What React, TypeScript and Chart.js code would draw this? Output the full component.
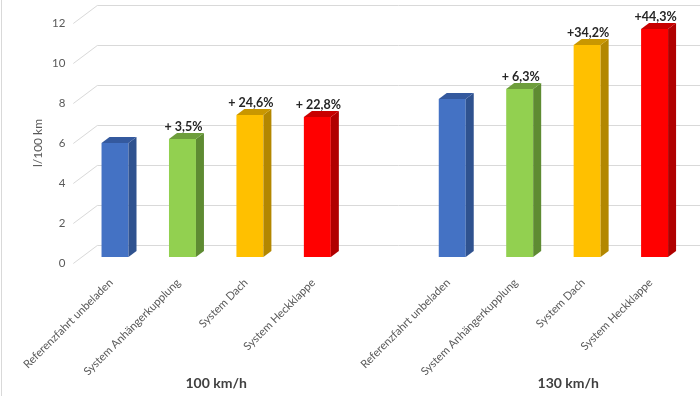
import { useEffect, useRef } from "react";
import { Chart, registerables } from "chart.js";

Chart.register(...registerables);

// ---- data ----
const categories = [
  "Referenzfahrt unbeladen",
  "System Anhängerkupplung",
  "System Dach",
  "System Heckklappe",
  "",
  "Referenzfahrt unbeladen",
  "System Anhängerkupplung",
  "System Dach",
  "System Heckklappe",
];
const values: (number | null)[] = [5.7, 5.9, 7.1, 7.0, null, 7.9, 8.4, 10.6, 11.4];
const barLabels = ["", "+ 3,5%", "+ 24,6%", "+ 22,8%", "", "", "+ 6,3%", "+34,2%", "+44,3%"];
const groupLabels = ["100 km/h", "130 km/h"];
const groupPositions = [1.5, 6.72];
const yMin = 0;
const yMax = 12;
const yStep = 2;
const yTitle = "l/100 km";

// ---- styles ----
const frontColors = ["#4472C4", "#92D050", "#FFC000", "#FF0000", "#fff", "#4472C4", "#92D050", "#FFC000", "#FF0000"];
const sideColors = ["#2F528F", "#5E8B32", "#B38700", "#B00000", "#fff", "#2F528F", "#5E8B32", "#B38700", "#B00000"];
const topColors = ["#34599E", "#6E9E3C", "#C99700", "#C80000", "#fff", "#34599E", "#6E9E3C", "#C99700", "#C80000"];
const DX = 8;
const DY = 6;
const FONT = "Lato, 'Liberation Sans', sans-serif";

const threeDPlugin = {
  id: "threeD",
  beforeDraw(chart: any) {
    const { ctx } = chart;
    ctx.save();
    ctx.fillStyle = "#ffffff";
    ctx.fillRect(0, 0, chart.width, chart.height);
    ctx.strokeStyle = "#d9d9d9";
    ctx.lineWidth = 1;
    ctx.beginPath();
    ctx.moveTo(1.5, 0);
    ctx.lineTo(1.5, chart.height);
    ctx.stroke();
    ctx.restore();
  },
  beforeDatasetsDraw(chart: any) {
    const { ctx, chartArea } = chart;
    const y = chart.scales.y;
    ctx.save();
    ctx.strokeStyle = "#d9d9d9";
    ctx.lineWidth = 1;
    y.ticks.forEach((t: any) => {
      const py = Math.round(y.getPixelForValue(t.value)) + 0.5;
      ctx.beginPath();
      ctx.moveTo(chartArea.left - 8, py + 6);
      ctx.lineTo(chartArea.left + 16, py - 12);
      ctx.lineTo(chart.width, py - 12);
      ctx.stroke();
    });
    ctx.restore();
  },
  afterDatasetsDraw(chart: any) {
    const { ctx } = chart;
    const meta = chart.getDatasetMeta(0);
    const xs = chart.scales.x;
    const ys = chart.scales.y;
    ctx.save();
    meta.data.forEach((bar: any, i: number) => {
      if (values[i] == null) return;
      const { x, y, base, width } = bar.getProps(["x", "y", "base", "width"], true);
      const l = x - width / 2;
      const r = x + width / 2;
      ctx.fillStyle = sideColors[i];
      ctx.beginPath();
      ctx.moveTo(r, y);
      ctx.lineTo(r + DX, y - DY);
      ctx.lineTo(r + DX, base - DY);
      ctx.lineTo(r, base);
      ctx.closePath();
      ctx.fill();
      ctx.fillStyle = topColors[i];
      ctx.beginPath();
      ctx.moveTo(l, y);
      ctx.lineTo(l + DX, y - DY);
      ctx.lineTo(r + DX, y - DY);
      ctx.lineTo(r, y);
      ctx.closePath();
      ctx.fill();
      if (barLabels[i]) {
        ctx.fillStyle = "#262626";
        ctx.font = `bold 12.5px ${FONT}`;
        ctx.textAlign = "center";
        ctx.textBaseline = "middle";
        ctx.fillText(barLabels[i], x + 1, y - 12);
      }
    });
    // group labels
    ctx.fillStyle = "#404040";
    ctx.font = `bold 14px ${FONT}`;
    ctx.textAlign = "center";
    ctx.textBaseline = "middle";
    const step = xs.getPixelForValue(1) - xs.getPixelForValue(0);
    groupLabels.forEach((g, k) => {
      const p = groupPositions[k];
      const fx = xs.getPixelForValue(Math.floor(p)) + (p - Math.floor(p)) * step;
      ctx.fillText(g, fx, chart.height - 13);
    });
    // y axis title
    ctx.fillStyle = "#595959";
    ctx.font = `12px ${FONT}`;
    const cy = (ys.getPixelForValue(yMin) + ys.getPixelForValue(yMax)) / 2 + 6;
    ctx.translate(38, cy);
    ctx.rotate(-Math.PI / 2);
    ctx.fillText(yTitle, 0, 0);
    ctx.restore();
  },
};

export default function App() {
  const ref = useRef<HTMLCanvasElement>(null);
  useEffect(() => {
    document.body.style.margin = "0";
    const chart = new Chart(ref.current!, {
      type: "bar",
      data: {
        labels: categories,
        datasets: [
          {
            data: values,
            backgroundColor: frontColors,
            borderWidth: 0,
            barPercentage: 0.4,
            categoryPercentage: 1,
          },
        ],
      },
      options: {
        responsive: false,
        animation: false,
        layout: { padding: { top: 17, right: 11.7, left: 0, bottom: 0 } },
        plugins: { legend: { display: false }, tooltip: { enabled: false } },
        scales: {
          x: {
            grid: { display: false },
            border: { display: false },
            ticks: {
              autoSkip: false,
              maxRotation: 45,
              minRotation: 45,
              padding: 11,
              labelOffset: -4,
              color: "#595959",
              font: { family: FONT, size: 11.2 },
            },
            afterFit(scale: any) {
              scale.height = 139;
            },
          },
          y: {
            min: yMin,
            max: yMax,
            grid: { display: false },
            border: { display: false },
            ticks: {
              stepSize: yStep,
              padding: 8,
              labelOffset: 6,
              color: "#595959",
              font: { family: FONT, size: 11.5 },
            },
            afterFit(scale: any) {
              scale.width = 81.3;
            },
          },
        },
      },
      plugins: [threeDPlugin],
    });
    return () => chart.destroy();
  }, []);
  return <canvas ref={ref} width={700} height={396} style={{ display: "block" }} />;
}
